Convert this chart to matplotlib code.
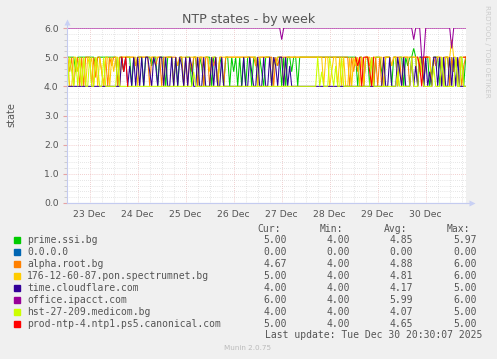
import numpy as np
import matplotlib.pyplot as plt
from matplotlib.lines import Line2D

# one value per hour, 200 hours, first sample = 22 Dec 13:00
# chars: 4/5/6 = state, a=4.3 h=4.5 b=4.7 d=5.3 c=5.6, n = no data
CODES = {'0': 0.0, '4': 4.0, 'a': 4.3, 'h': 4.5, 'b': 4.7, '5': 5.0,
         'd': 5.3, 'c': 5.6, '6': 6.0, 'n': np.nan}

prime_ssi = ("5555h55555 5555b55555 55555455h5 5545b55545 55b5545554 "
             "5554545545 5545545b45 5545545b45 545h545454 5545545h45 "
             "5545b55454 55h5545555 5555555555 5555555555 5555545545 "
             "5454555h45 5545545545 b55d545545 54h5554545 545h545545")
zero_zero = "0" * 200
alpha_root = ("5h54b54545 5545a55h45 45b5545555 5555b55555 5455b55455 "
              "55555b5545 45h5545545 545b545545 5555555555 5555b55555 "
              "55545b5555 5555555555 5555555555 5555555555 545h5h5545 "
              "5b54545455 55b5555455 545555h545 5545b55455 545h5b54b5")
spectrumnet = ("54455h5454 5b54545h45 545h554555 5555545555 5555555545 "
               "55545b5555 5555555555 5h55545555 5555555555 5555545555 "
               "5545b55545 5555555555 5555555545 54h5545454 4545b54545 "
               "5545555545 55b5545555 5555545h55 5545555545 55c5545555")
cloudflare = ("4444444444 4444444444 44444445h5 4b45454545 5h45b45545 "
              "4454545b45 45b4454454 4454544544 4444444454 45h4454454 "
              "4545b45545 4b44444444 4444444444 4444444444 4444444444 "
              "4444444454 454445h454 4454b45545 4h45545454 4545454444")
ipacct = ("6666666666 6666666666 6666666666 6666666666 6666666666 "
          "6666666666 6666666666 6666666666 6666666666 6666666666 "
          "6666666c66 6666666666 6666666666 6666666666 6666666666 "
          "6666666666 6666666666 666c66655 6 6666666666 66d6666666")
medicom = ("45h4545454 45445b4454 4444454444 4444444444 4444444444 "
           "4444444444 444h444444 4444444444 4444444444 4444444444 "
           "4444444444 4444444444 4444454h44 45h4b44544 4444444444 "
           "4454444444 44444h4444 4454445h44 444b444544 4444544544")
canonical = ("nnnnnnnnnn nnnnnnnnnn nnnnnnn5h5 4nnnnnnnnn nnnnnnnnnn "
             "nnnnnnnnnn nnnnnnnnnn nnnnnnnnnn nnnnnnnnnn nnnnnnnnnn "
             "nnnnnnnnnn nnnnnnnnnn nnnnnnnnnn nnnnnnnnnn nnnn5b5455 "
             "5h45nnnnnn nnnnnnnnnn nnnnn5b455 5nnnnnnnnn nnnnnnnn55")

names = ["prime.ssi.bg", "0.0.0.0", "alpha.root.bg",
         "176-12-60-87.pon.spectrumnet.bg", "time.cloudflare.com",
         "office.ipacct.com", "hst-27-209.medicom.bg",
         "prod-ntp-4.ntp1.ps5.canonical.com"]
series = [prime_ssi, zero_zero, alpha_root, spectrumnet, cloudflare,
          ipacct, medicom, canonical]
colors = ["#00CC00", "#0066B3", "#FF8000", "#FFCC00", "#330099",
          "#990099", "#CCFF00", "#FF0000"]
cur = ["5.00", "0.00", "4.67", "5.00", "4.00", "6.00", "4.00", "5.00"]
vmin = ["4.00", "0.00", "4.00", "4.00", "4.00", "4.00", "4.00", "4.00"]
avg = ["4.85", "0.00", "4.88", "4.81", "4.17", "5.99", "4.07", "4.65"]
vmax = ["5.97", "0.00", "6.00", "6.00", "5.00", "6.00", "5.00", "5.00"]
day_labels = ["23 Dec", "24 Dec", "25 Dec", "26 Dec", "27 Dec",
              "28 Dec", "29 Dec", "30 Dec"]
last_update = "Last update: Tue Dec 30 20:30:07 2025"


def decode(s):
    return np.array([CODES[c] for c in s.replace(" ", "")])


W, H = 497, 359
BG = "#F0F0F0"
TXT = "#555555"
AXC = "#C4CBF0"

fig = plt.figure(figsize=(W / 100, H / 100), dpi=100, facecolor=BG)
ax = fig.add_axes([67 / W, 1 - 203 / H, 399 / W, 175 / H], facecolor="white")

hours = np.arange(200) - 11  # hours relative to 23 Dec 00:00
for s, c in zip(series, colors):
    ax.plot(hours, decode(s), color=c, lw=0.75, solid_joinstyle="miter")

ax.set_xlim(-11.35, 188.15)
ax.set_ylim(0, 6)

ax.set_yticks(np.arange(0, 7, 1.0))
ax.set_yticks(np.arange(0, 6.01, 0.2), minor=True)
ax.set_yticklabels([f"{v:.1f}" for v in range(7)])
ax.set_xticks(np.arange(len(day_labels)) * 24)
ax.set_xticks(np.arange(-6, 189, 6), minor=True)
ax.set_xticklabels(day_labels)

ax.grid(which="minor", color="#CFCFCF", lw=0.5, ls=(0, (1, 2)))
ax.grid(which="major", color="#E6A3A3", lw=0.5, ls=(0, (1, 2)))
ax.set_axisbelow(True)

ax.tick_params(which="both", labelsize=6.7, labelcolor=TXT, pad=3)
ax.tick_params(axis="y", which="major", length=3, color="#E6A3A3")
ax.tick_params(axis="y", which="minor", length=2, color="#C8C8C8")
ax.tick_params(axis="x", which="major", length=0, pad=5)
ax.tick_params(axis="x", which="minor", length=0)

for side in ["top", "right"]:
    ax.spines[side].set_visible(False)
for side in ["left", "bottom"]:
    ax.spines[side].set_color(AXC)
    ax.spines[side].set_linewidth(0.8)

# axis arrows
ax.add_line(Line2D([0, 0], [1, 1.03], transform=ax.transAxes, color=AXC,
                   lw=0.8, clip_on=False))
ax.add_line(Line2D([1, 1.012], [0, 0], transform=ax.transAxes, color=AXC,
                   lw=0.8, clip_on=False))
ax.plot([0], [1.035], marker="^", ms=4, color="#C8D0F4", mec="none",
        transform=ax.transAxes, clip_on=False)
ax.plot([1.014], [0], marker=">", ms=4, color="#C8D0F4", mec="none",
        transform=ax.transAxes, clip_on=False)

fig.text(0.5, 1 - 19 / H, "NTP states - by week", ha="center", va="center",
         fontsize=9.1, color=TXT)
fig.text(11 / W, 1 - 115 / H, "state", ha="center", va="center",
         rotation=90, fontsize=7, color=TXT)
fig.text(487 / W, 1 - 5 / H, "RRDTOOL / TOBI OETIKER", ha="center",
         va="top", rotation=270, fontsize=5.2, color="#CCCCCC")

# legend table
mono = dict(family="DejaVu Sans Mono", fontsize=7, color=TXT, va="center")
fig.text(281 / W, 1 - 228.5 / H, "Cur:", ha="right", **mono)
fig.text(343 / W, 1 - 228.5 / H, "Min:", ha="right", **mono)
fig.text(407 / W, 1 - 228.5 / H, "Avg:", ha="right", **mono)
fig.text(470 / W, 1 - 228.5 / H, "Max:", ha="right", **mono)
for i, name in enumerate(names):
    y = 1 - (240 + 12 * i) / H
    fig.patches.append(plt.Rectangle((14 / W, y - 3 / H), 6 / W, 6 / H,
                                     transform=fig.transFigure,
                                     color=colors[i]))
    fig.text(27 / W, y, name, ha="left", **mono)
    fig.text(287 / W, y, cur[i], ha="right", **mono)
    fig.text(350 / W, y, vmin[i], ha="right", **mono)
    fig.text(413 / W, y, avg[i], ha="right", **mono)
    fig.text(477 / W, y, vmax[i], ha="right", **mono)
fig.text(482 / W, 1 - 335.5 / H, last_update, ha="right", **mono)
fig.text(248 / W, 1 - 348.5 / H, "Munin 2.0.75", ha="center", va="center",
         fontsize=5.2, color="#BBBBBB")

fig.savefig("out.png", dpi=100, facecolor=BG)
